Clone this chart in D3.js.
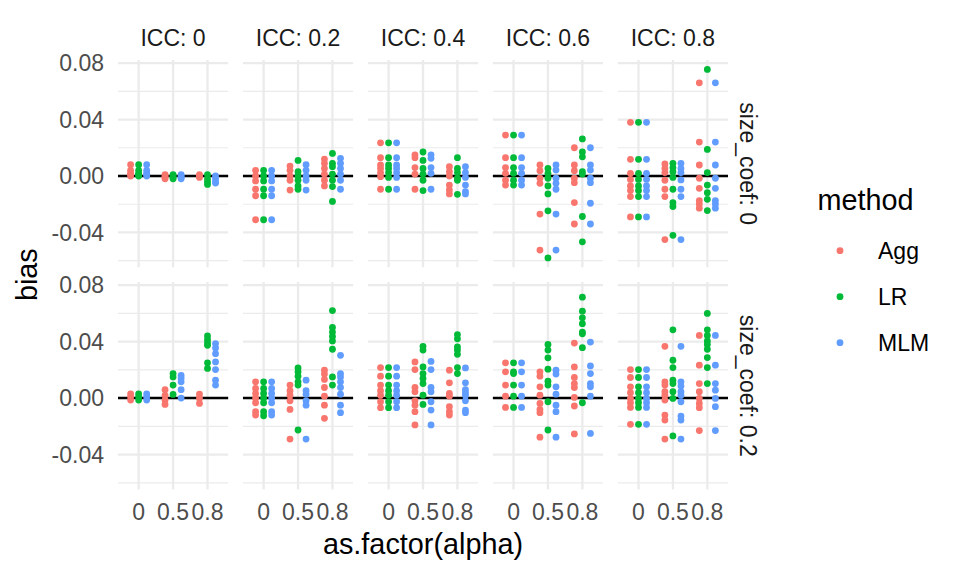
<!DOCTYPE html>
<html><head><meta charset="utf-8">
<script src="https://cdn.jsdelivr.net/npm/d3@7"></script>
<style>body{margin:0;background:#fff}svg{display:block;font-family:"Liberation Sans",Arial,sans-serif}</style>
</head><body><svg id="c" width="960" height="576"></svg>
<script>
const iccLevels = ["0", "0.2", "0.4", "0.6", "0.8"];
const sizeCoefLevels = ["0", "0.2"];
const alphaLevels = ["0", "0.5", "0.8"];
const methods = ["Agg", "LR", "MLM"];
const methodColors = ["#F8766D", "#00BA38", "#619CFF"];
const yTicks = [-0.04, 0, 0.04, 0.08];
const yTickLabels = ["-0.04", "0.00", "0.04", "0.08"];
const yMinor = [-0.06, -0.02, 0.02, 0.06];

// bias values for size_coef = 0: [ICC][alpha][method] -> points
const biasSize0 = [
  [ // ICC 0
    [[0.008,0.004,0.002,0.001,0.0],[0.008,0.004,0.002,0.001,0.0],[0.008,0.004,0.002,0.001,0.0]],
    [[0.001,0.0,-0.001,-0.002],[0.001,0.0,-0.001,-0.002],[0.001,0.0,-0.001,-0.002]],
    [[0.001,0.0,-0.001],[0.001,-0.002,-0.004,-0.006],[0.0,-0.002,-0.004,-0.005]]
  ],
  [ // ICC 0.2
    [[0.004,0.0,-0.0035,-0.0094,-0.014,-0.031],[0.004,0.0,-0.0035,-0.0094,-0.014,-0.031],[0.004,0.0,-0.0035,-0.0094,-0.014,-0.031]],
    [[0.007,0.004,0.0,-0.003,-0.010],[0.011,0.003,0.0,-0.003,-0.007,-0.0094],[0.008,0.004,0.0,-0.003,-0.010]],
    [[0.012,0.009,0.0054,0.0014,-0.003,-0.007],[0.016,0.009,0.0066,0.0014,-0.003,-0.0075,-0.018],[0.0125,0.009,0.0054,0.0014,-0.003,-0.0094]]
  ],
  [ // ICC 0.4
    [[0.0235,0.013,0.0078,0.0054,0.0024,-0.0005,-0.0094],[0.0235,0.013,0.0078,0.0054,0.0024,-0.001,-0.0094],[0.0235,0.013,0.0078,0.0054,0.0024,-0.001,-0.0094]],
    [[0.015,0.013,0.006,0.0014,-0.0094],[0.017,0.011,0.0054,0.0014,-0.003,-0.0103],[0.015,0.0125,0.006,0.0019,-0.0094]],
    [[0.0066,0.003,0.0,-0.0064,-0.0099,-0.0127],[0.013,0.0054,0.0024,-0.0016,-0.003,-0.013],[0.0066,0.0024,-0.001,-0.0064,-0.011,-0.0127]]
  ],
  [ // ICC 0.6
    [[0.029,0.013,0.006,0.0019,-0.003,-0.0064],[0.029,0.013,0.006,0.0019,-0.003,-0.0064],[0.029,0.013,0.006,0.0019,-0.003,-0.0064]],
    [[0.0078,0.0038,-0.0016,-0.0052,-0.027,-0.0525],[0.0054,0.0019,-0.0016,-0.007,-0.0127,-0.0247,-0.058],[0.0078,0.0042,-0.0016,-0.0052,-0.0094,-0.027,-0.0525]],
    [[0.02,0.0078,0.0038,-0.0016,-0.0047,-0.0188,-0.034],[0.0263,0.017,0.0136,0.003,0.0014,-0.0287,-0.0466],[0.02,0.0078,0.0042,-0.0016,-0.0047,-0.0193,-0.034]]
  ],
  [ // ICC 0.8
    [[0.038,0.0118,0.0019,-0.0024,-0.007,-0.0103,-0.0146,-0.029],[0.038,0.0118,0.0019,-0.0024,-0.007,-0.0103,-0.0146,-0.029],[0.038,0.0118,0.0019,-0.0024,-0.007,-0.0103,-0.0146,-0.029]],
    [[0.0085,0.0054,0.0024,-0.003,-0.0094,-0.0146,-0.045],[0.009,0.006,0.003,-0.001,-0.0094,-0.0188,-0.0216,-0.042],[0.009,0.0054,0.0024,-0.0028,-0.0094,-0.0146,-0.045]],
    [[0.066,0.024,0.0078,-0.0016,-0.0087,-0.0174,-0.0198,-0.0228],[0.0755,0.0188,0.0024,-0.0064,-0.0118,-0.0165,-0.0245],[0.066,0.024,0.0078,-0.0016,-0.0087,-0.0174,-0.0198,-0.0228]]
  ]
];

// bias values for size_coef = 0.2: [ICC][alpha][method] -> points
const biasSize02 = [
  [ // ICC 0
    [[0.003,0.001,-0.0014],[0.003,0.001,-0.0014],[0.003,0.001,-0.0014]],
    [[0.006,0.002,-0.0014,-0.0045],[0.0174,0.015,0.0092,0.0026],[0.016,0.014,0.0115,0.006,0.0]],
    [[0.0028,-0.0002,-0.0038],[0.044,0.0414,0.039,0.0374,0.025,0.021],[0.0386,0.0355,0.0315,0.0256,0.0202,0.0127,0.0092]]
  ],
  [ // ICC 0.2
    [[0.0115,0.0068,0.0033,0.0,-0.0033,-0.0096,-0.012],[0.0115,0.0068,0.0033,0.0,-0.0033,-0.0096,-0.0125],[0.0115,0.0068,0.0033,0.0,-0.0033,-0.0096,-0.012]],
    [[0.0092,0.0052,0.0021,-0.0019,-0.008,-0.029],[0.0214,0.0186,0.0155,0.0115,0.0092,-0.0226],[0.0127,0.0052,0.0028,-0.0019,-0.005,-0.029]],
    [[0.0198,0.017,0.0132,0.0075,0.0014,-0.005,-0.0143],[0.062,0.050,0.0468,0.0437,0.0405,0.0346,0.015,0.0092],[0.0303,0.0174,0.015,0.0115,0.0075,0.0028,-0.005,-0.0103]]
  ],
  [ // ICC 0.4
    [[0.0216,0.0155,0.0092,0.0052,0.0021,-0.0026,-0.0068],[0.0216,0.0155,0.0092,0.0052,0.0021,-0.0026,-0.0068],[0.0216,0.0155,0.0092,0.0052,0.0021,-0.0026,-0.0068]],
    [[0.0256,0.0202,0.0075,0.0045,-0.0019,-0.005,-0.0096,-0.019],[0.0367,0.034,0.0221,0.0174,0.0139,0.0103,0.0021,-0.0045],[0.026,0.0202,0.0075,0.0045,-0.0026,-0.0085,-0.019]],
    [[0.0198,0.0108,0.0033,0.0014,-0.0061,-0.0096,-0.012],[0.045,0.042,0.0362,0.034,0.031,0.0216,0.0174],[0.0214,0.0108,0.006,0.0038,0.0021,-0.0019,-0.0085,-0.0103]]
  ],
  [ // ICC 0.6
    [[0.025,0.0186,0.0092,0.0014,-0.0066],[0.025,0.0186,0.0174,0.0092,0.0014,-0.0066],[0.025,0.0186,0.0092,0.0014,-0.0066]],
    [[0.0186,0.0155,0.008,0.0021,-0.0038,-0.008,-0.0103,-0.0277],[0.038,0.034,0.0285,0.0205,0.012,0.0092,-0.0026,-0.0226],[0.0198,0.017,0.008,0.0028,-0.005,-0.0096,-0.0277]],
    [[0.039,0.0221,0.0146,0.0103,0.0075,0.0005,-0.0056,-0.0254],[0.0715,0.0616,0.0569,0.0527,0.0468,0.0456,0.0357,-0.0033],[0.0397,0.0228,0.0174,0.0103,0.008,0.0014,-0.025]]
  ],
  [ // ICC 0.8
    [[0.0202,0.0146,0.008,0.0038,-0.0002,-0.0033,-0.0066,-0.0186],[0.0202,0.0146,0.008,0.0038,-0.0002,-0.0033,-0.0066,-0.0186],[0.0202,0.0146,0.008,0.0038,-0.0002,-0.0033,-0.0066,-0.0186]],
    [[0.0367,0.0115,0.0092,0.0045,0.0021,-0.0014,-0.012,-0.0155,-0.029],[0.0484,0.0268,0.0216,0.0127,0.0103,0.0045,-0.0002,-0.0268],[0.0367,0.0115,0.0085,0.0045,0.0021,-0.0026,-0.0127,-0.0155,-0.029]],
    [[0.0444,0.0233,0.0103,0.0045,-0.0002,-0.0038,-0.0068,-0.023],[0.060,0.0484,0.0444,0.0405,0.038,0.0346,0.0287,0.0216,0.0103],[0.0444,0.0233,0.0103,0.0056,-0.0002,-0.0061,-0.023]]
  ]
];

const biasByRow = [biasSize0, biasSize02];

// ---- layout ----
const svg = d3.select("#c");
const plotLeft = 118, plotRight = 728, plotTop = 60, plotBottom = 489.4, spacing = 14.8;
const nCol = iccLevels.length, nRow = sizeCoefLevels.length;
const pw = (plotRight - plotLeft - spacing * (nCol - 1)) / nCol;
const ph = (plotBottom - plotTop - spacing * (nRow - 1)) / nRow;

// y domain from data with 5% expansion
const allVals = biasByRow.flat(4);
const yMin = d3.min(allVals), yMax = d3.max(allVals);
const yPad = (yMax - yMin) * 0.05;
const y = d3.scaleLinear().domain([yMin - yPad, yMax + yPad]).range([ph, 0]);

// discrete x with 0.6 expansion
const xIdx = d3.scaleLinear().domain([0.4, alphaLevels.length + 0.6]).range([0, pw]);
const dodge = 0.7;
const dodgeOff = d => (d - (methods.length - 1) / 2) * dodge / methods.length;
const color = d3.scaleOrdinal().domain(methods).range(methodColors);

const tickCol = "#4D4D4D", gridCol = "#EBEBEB";
const ptR = 3.4;

for (let r = 0; r < nRow; r++) {
  for (let c = 0; c < nCol; c++) {
    const g = svg.append("g").attr("transform", `translate(${plotLeft + c * (pw + spacing)},${plotTop + r * (ph + spacing)})`);
    g.selectAll("line.mn").data(yMinor).join("line")
      .attr("x1", 0).attr("x2", pw).attr("y1", d => y(d)).attr("y2", d => y(d))
      .attr("stroke", gridCol).attr("stroke-width", 1.2);
    g.selectAll("line.mj").data(yTicks).join("line")
      .attr("x1", 0).attr("x2", pw).attr("y1", d => y(d)).attr("y2", d => y(d))
      .attr("stroke", gridCol).attr("stroke-width", 2.3);
    g.selectAll("line.vx").data(alphaLevels).join("line")
      .attr("x1", (d, i) => xIdx(i + 1)).attr("x2", (d, i) => xIdx(i + 1))
      .attr("y1", 0).attr("y2", ph)
      .attr("stroke", gridCol).attr("stroke-width", 2.3);
    g.append("line").attr("x1", 0).attr("x2", pw).attr("y1", y(0)).attr("y2", y(0))
      .attr("stroke", "#000").attr("stroke-width", 2.5);
    const pts = [];
    biasByRow[r][c].forEach((byAlpha, ai) => {
      byAlpha.forEach((vals, mi) => {
        vals.forEach(v => pts.push({ a: ai, m: mi, v }));
      });
    });
    g.selectAll("circle").data(pts).join("circle")
      .attr("cx", d => xIdx(d.a + 1 + dodgeOff(d.m)))
      .attr("cy", d => y(d.v))
      .attr("r", ptR)
      .attr("fill", d => color(methods[d.m]));

    if (r === nRow - 1) {
      g.selectAll("text.xt").data(alphaLevels).join("text")
        .attr("x", (d, i) => xIdx(i + 1)).attr("y", ph + 30.6)
        .attr("text-anchor", "middle").attr("fill", tickCol)
        .attr("font-size", 23).text(d => d);
    }
    if (c === 0) {
      g.selectAll("text.yt").data(yTicks).join("text")
        .attr("x", -14).attr("y", d => y(d)).attr("dy", "0.36em")
        .attr("text-anchor", "end").attr("fill", tickCol)
        .attr("font-size", 23).text((d, i) => yTickLabels[i]);
    }
    if (r === 0) {
      svg.append("text").attr("x", plotLeft + c * (pw + spacing) + pw / 2).attr("y", 46)
        .attr("text-anchor", "middle").attr("fill", "#1A1A1A").attr("font-size", 23)
        .text("ICC: " + iccLevels[c]);
    }
  }
  const cy = plotTop + r * (ph + spacing) + ph / 2;
  svg.append("text").attr("transform", `translate(740,${cy}) rotate(90)`)
    .attr("text-anchor", "middle").attr("fill", "#1A1A1A").attr("font-size", 23)
    .text("size_coef: " + sizeCoefLevels[r]);
}

svg.append("text").attr("x", (plotLeft + plotRight) / 2).attr("y", 554)
  .attr("text-anchor", "middle").attr("font-size", 28.8).attr("fill", "#000")
  .text("as.factor(alpha)");
svg.append("text").attr("transform", `translate(36.5,${(plotTop + plotBottom) / 2}) rotate(-90)`)
  .attr("text-anchor", "middle").attr("font-size", 28.8).attr("fill", "#000")
  .text("bias");

const lg = svg.append("g");
lg.append("text").attr("x", 817.5).attr("y", 209.5).attr("font-size", 28.8).attr("fill", "#000").text("method");
const legY = d3.scalePoint().domain(methods).range([250.7, 342.7]);
lg.selectAll("circle").data(methods).join("circle")
  .attr("cx", 840).attr("cy", d => legY(d)).attr("r", ptR).attr("fill", d => color(d));
lg.selectAll("text.lb").data(methods).join("text")
  .attr("x", 878).attr("y", d => legY(d)).attr("dy", "0.36em")
  .attr("font-size", 23).attr("fill", "#000").text(d => d);
</script></body></html>
